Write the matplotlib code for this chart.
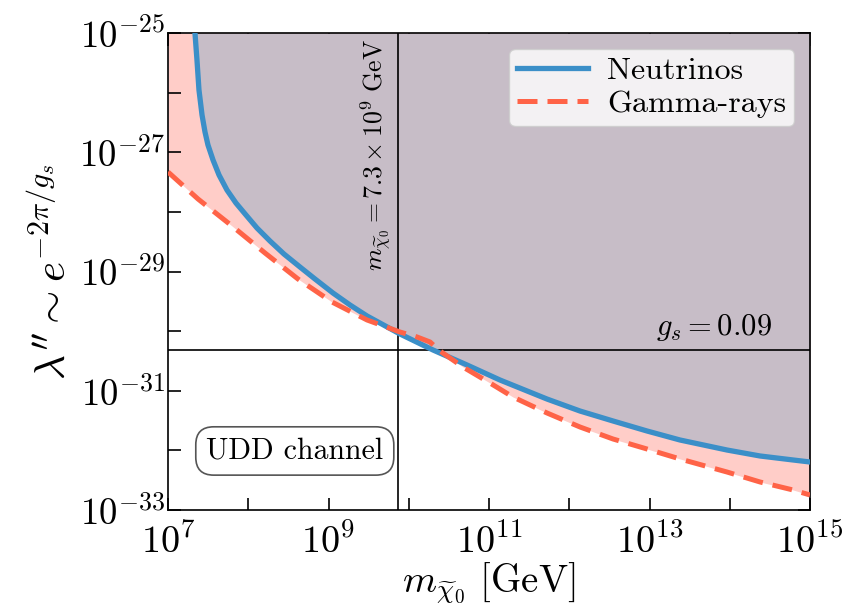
import numpy as np
import matplotlib
matplotlib.use('Agg')
import matplotlib.pyplot as plt

plt.rcParams['font.family'] = 'serif'
plt.rcParams['font.serif'] = ['cmr10']
plt.rcParams['mathtext.fontset'] = 'cm'
plt.rcParams['axes.formatter.use_mathtext'] = True

# bounds in log10 units: mass [GeV] vs lambda''
nu_logm = [7.336, 7.361, 7.386, 7.424, 7.461, 7.498, 7.561, 7.636, 7.735, 7.847,
           7.972, 8.109, 8.271, 8.445, 8.645, 8.832, 9.056, 9.268, 9.480, 9.891,
           10.303, 10.726, 11.137, 11.723, 12.134, 12.545, 12.969, 13.380, 13.966,
           14.377, 14.788, 15.0]
nu_loglam = [-25.0, -25.453, -25.956, -26.375, -26.660, -26.878, -27.130, -27.382,
             -27.634, -27.852, -28.053, -28.271, -28.489, -28.707, -28.925, -29.126,
             -29.361, -29.562, -29.746, -30.048, -30.317, -30.568, -30.820, -31.139,
             -31.340, -31.507, -31.675, -31.826, -31.994, -32.094, -32.161, -32.195]

gam_logm = [7.0, 7.374, 7.798, 8.209, 8.620, 9.044, 9.480, 9.891, 10.103, 10.265,
            10.389, 10.676, 11.012, 11.299, 11.723, 12.134, 12.545, 12.969, 13.380,
            13.966, 14.377, 14.788, 15.0]
gam_loglam = [-27.331, -27.784, -28.237, -28.690, -29.126, -29.512, -29.813, -30.015,
              -30.098, -30.182, -30.333, -30.602, -30.870, -31.105, -31.373, -31.608,
              -31.809, -31.977, -32.144, -32.363, -32.530, -32.664, -32.748]

m_line = 7.3e9
gs = 0.09
lam_line = np.exp(-2 * np.pi / gs)

m_nu = 10 ** np.array(nu_logm)
lam_nu = 10 ** np.array(nu_loglam)
m_gam = 10 ** np.array(gam_logm)
lam_gam = 10 ** np.array(gam_loglam)

fig = plt.figure(figsize=(8.56, 6.06), dpi=100)
ax = fig.add_axes([168/856, 1 - 510/606, 642/856, 477/606])

ax.fill_between(m_gam, lam_gam, 1e-25, color='#ffcdc8', lw=0, zorder=1)
ax.fill_between(m_nu, lam_nu, 1e-25, color='#c7bdc7', lw=0, zorder=2)
ax.plot(m_nu, lam_nu, color='#3b8fc8', lw=3.8, label='Neutrinos', zorder=4,
        solid_joinstyle='round')
ax.plot(m_gam, lam_gam, color='#ff6347', lw=3.6, ls=(0, (4, 2)), label='Gamma-rays', zorder=5)

ax.axvline(m_line, color='k', lw=1.2, zorder=3)
ax.axhline(lam_line, color='k', lw=1.2, zorder=3)

ax.text(m_line / 1.12, 10 ** -25.1, r'$m_{\widetilde{\chi}_0}=7.3\times10^9\ \mathrm{GeV}$',
        rotation=90, ha='right', va='top', fontsize=18.5, zorder=6)
ax.text(10 ** 14.53, 10 ** -30.2, r'$g_s=0.09$', ha='right', va='bottom', fontsize=22, zorder=6)
ax.text(10 ** 8.58, 10 ** -32.01, 'UDD channel', ha='center', va='center', fontsize=21.5, zorder=7,
        bbox=dict(boxstyle='round,pad=0.35,rounding_size=0.6', fc='white', ec='#555555', lw=1.2))

ax.set_xscale('log')
ax.set_yscale('log')
ax.set_xlim(1e7, 1e15)
ax.set_ylim(1e-33, 1e-25)
ax.set_xticks([10.0 ** k for k in range(7, 16, 2)])
ax.set_xticks([10.0 ** k for k in range(8, 15, 2)], minor=True)
ax.set_yticks([10.0 ** k for k in range(-33, -24, 2)])
ax.set_yticks([10.0 ** k for k in range(-32, -25, 2)], minor=True)
ax.tick_params(which='both', direction='in', top=True, right=True, length=9, width=1.2)
ax.tick_params(axis='x', pad=9, labelsize=27.5)
ax.tick_params(axis='y', pad=2, labelsize=26.5)
ax.tick_params(which='minor', labelbottom=False, labelleft=False)
for s in ax.spines.values():
    s.set_linewidth(1.2)

ax.set_xlabel(r'$m_{\widetilde{\chi}_0}\ [\mathrm{GeV}]$', fontsize=28, labelpad=0)
ax.set_ylabel(r"$\lambda'' \sim e^{-2\pi/g_s}$", fontsize=31, labelpad=4)

leg = ax.legend(loc='upper right', fontsize=23, handlelength=2.2, handletextpad=0.6,
                fancybox=True, framealpha=0.8, borderpad=0.25, labelspacing=0.15,
                borderaxespad=0.5)
leg.set_zorder(8)

fig.savefig('out.png', dpi=100)
